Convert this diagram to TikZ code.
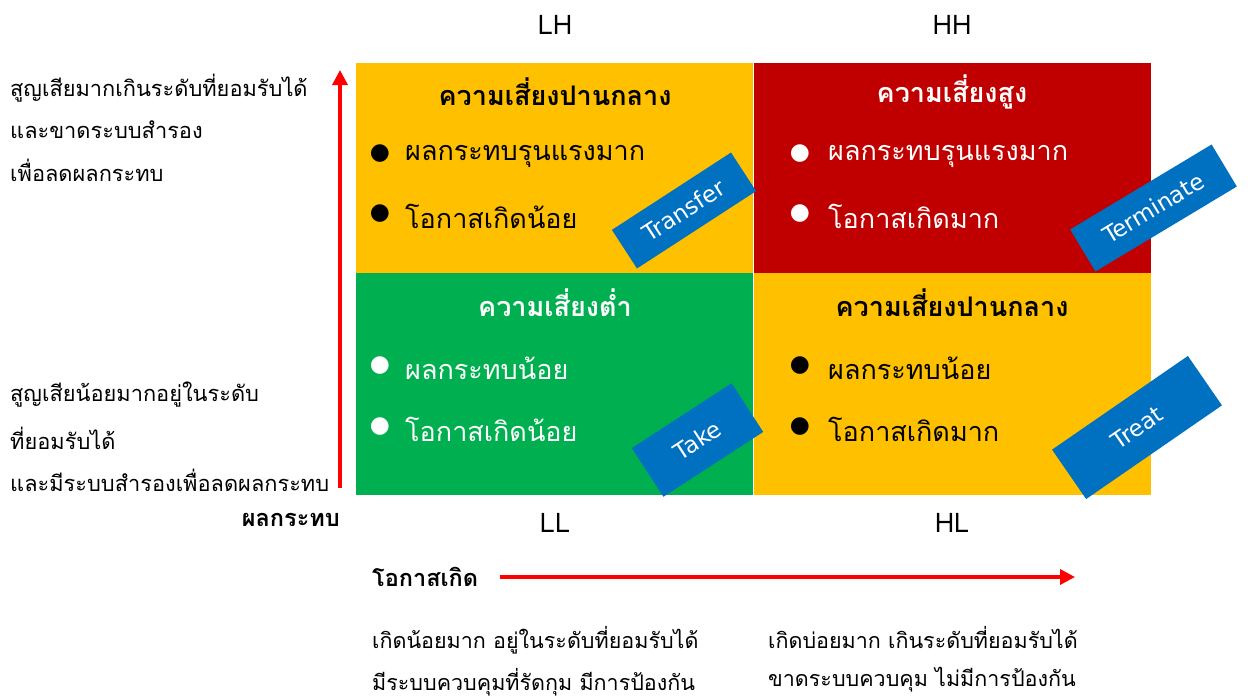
\documentclass[tikz,border=0pt]{standalone}
\usepackage{fontspec}
\newfontfamily\thai[Script=Thai]{Loma}
\newfontfamily\lat{DejaVu Sans}
\usetikzlibrary{arrows.meta}
\definecolor{cyel}{HTML}{FFC000}
\definecolor{cred}{HTML}{C00000}
\definecolor{cgrn}{HTML}{00B050}
\definecolor{cblu}{HTML}{0070C0}
\definecolor{carr}{HTML}{FF0000}
\tikzset{
  cell/.style={inner sep=0pt, minimum width=397pt, minimum height=211pt, draw=none},
  ttl/.style={font=\thai\bfseries\fontsize{27}{30}\selectfont, inner sep=0pt},
  blt/.style={font=\lat\fontsize{23}{25}\selectfont, inner sep=0pt},
  itm/.style={font=\thai\fontsize{27}{31}\selectfont, inner sep=0pt, anchor=west},
  side/.style={font=\thai\fontsize{21.8}{25}\selectfont, inner sep=0pt, anchor=west},
  low/.style={font=\thai\fontsize{21.5}{25}\selectfont, inner sep=0pt, anchor=west},
  axb/.style={font=\thai\bfseries\fontsize{23.5}{27}\selectfont, inner sep=0pt},
  axl/.style={font=\thai\fontsize{27}{30}\selectfont, inner sep=0pt},
  tag/.style={fill=cblu, text=white, font=\lat\fontsize{23}{26}\selectfont, inner sep=0pt},
  arr/.style={draw=carr, line width=3.5pt, -{Triangle[length=15pt,width=15pt]}},
}
\begin{document}
\begin{tikzpicture}[x=1pt,y=-1pt]
\useasboundingbox[fill=white] (0,0) rectangle (1250,697);
% cells
\node[cell, fill=cyel] (tl) at (554.5,168) {};
\node[cell, fill=cred] (tr) at (952.5,168) {};
\node[cell, fill=cgrn, minimum height=222pt] (bl) at (554.5,384) {};
\node[cell, fill=cyel, minimum height=222pt] (br) at (952.5,384) {};
% corner labels
\node[axl] (lh) at (555,25) {LH};
\node[axl] (hh) at (952,25) {HH};
\node[axl] (ll) at (555,523) {LL};
\node[axl] (hl) at (952,523) {HL};
% titles
\node[ttl] (t1) at (555,92) {ความเสี่ยงปานกลาง};
\node[ttl, text=white] (t2) at (952,92) {ความเสี่ยงสูง};
\node[ttl, text=white] (t3) at (555,303) {ความเสี่ยงต่ำ};
\node[ttl] (t4) at (952,303) {ความเสี่ยงปานกลาง};
% bullets top-left
\node[blt] (b1) at (380,154) {●};
\node[itm] (i1) at (405,156) {ผลกระทบรุนแรงมาก};
\node[blt] (b2) at (380,214) {●};
\node[itm] (i2) at (405,216) {โอกาสเกิดน้อย};
% top-right
\node[blt, text=white] (b3) at (800,154) {●};
\node[itm, text=white] (i3) at (828,156) {ผลกระทบรุนแรงมาก};
\node[blt, text=white] (b4) at (800,214) {●};
\node[itm, text=white] (i4) at (828,216) {โอกาสเกิดมาก};
% bottom-left
\node[blt, text=white] (b5) at (380,366) {●};
\node[itm, text=white] (i5) at (405,368) {ผลกระทบน้อย};
\node[blt, text=white] (b6) at (380,427) {●};
\node[itm, text=white] (i6) at (405,429) {โอกาสเกิดน้อย};
% bottom-right
\node[blt] (b7) at (800,366) {●};
\node[itm] (i7) at (828,368) {ผลกระทบน้อย};
\node[blt] (b8) at (800,427) {●};
\node[itm] (i8) at (828,429) {โอกาสเกิดมาก};
% strategy tags
\node[tag, rotate=33, minimum width=142pt, minimum height=46pt] (g1) at (684,210.5) {Transfer};
\node[tag, rotate=31, minimum width=165pt, minimum height=49pt] (g2) at (1153.5,208) {Terminate};
\node[tag, rotate=33, minimum width=119pt, minimum height=58pt] (g3) at (697.5,440) {Take};
\node[tag, rotate=34.6, minimum width=165pt, minimum height=60pt] (g4) at (1137,427.5) {Treat};
% side texts
\node[side] (s1) at (10,88) {สูญเสียมากเกินระดับที่ยอมรับได้};
\node[side] (s2) at (10,130) {และขาดระบบสำรอง};
\node[side] (s3) at (10,170) {เพื่อลดผลกระทบ};
\node[side] (s4) at (10,395) {สูญเสียน้อยมากอยู่ในระดับ};
\node[side] (s5) at (10,438) {ที่ยอมรับได้};
\node[side] (s6) at (10,480) {และมีระบบสำรองเพื่อลดผลกระทบ};
\node[axb, anchor=east] (ax1) at (340,520) {ผลกระทบ};
\node[axb, anchor=west] (ax2) at (372,577) {โอกาสเกิด};
% bottom texts
\node[low] (u1) at (372,640) {เกิดน้อยมาก อยู่ในระดับที่ยอมรับได้};
\node[low] (u2) at (372,682) {มีระบบควบคุมที่รัดกุม มีการป้องกัน};
\node[low] (u3) at (768,637) {เกิดบ่อยมาก เกินระดับที่ยอมรับได้};
\node[low] (u4) at (768,680) {ขาดระบบควบคุม ไม่มีการป้องกัน};
% arrows
\coordinate (va) at (340,488);
\coordinate (vb) at (340,70);
\coordinate (ha) at (500,577);
\coordinate (hb) at (1075,577);
\draw[arr] (va) -- (vb);
\draw[arr] (ha) -- (hb);
\end{tikzpicture}
\end{document}
